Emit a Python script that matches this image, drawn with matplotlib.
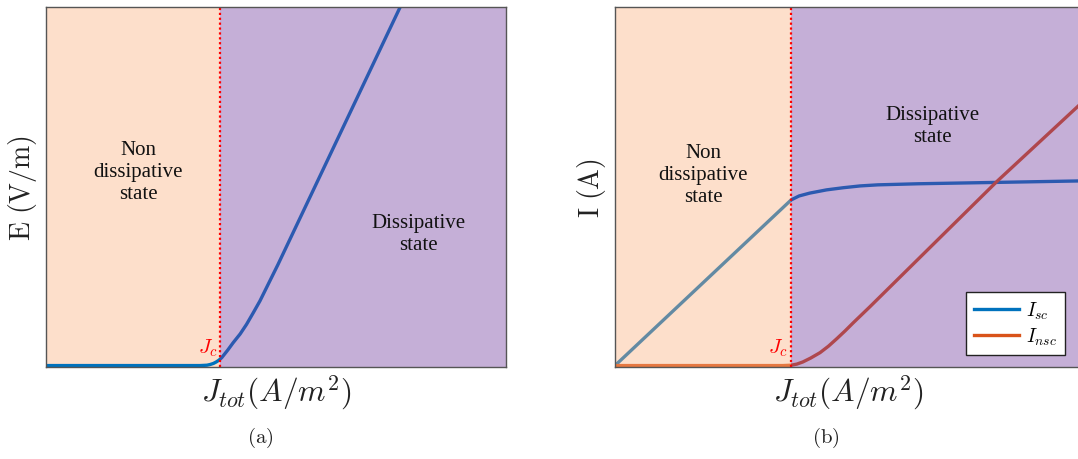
import matplotlib
matplotlib.use("Agg")
import matplotlib.pyplot as plt

plt.rcParams['mathtext.fontset'] = 'cm'

# ---- data (arbitrary units) ----
Jc = 3.78
# panel (a): E vs J
J_a = [0.0, 3.35, 3.5, 3.57, 3.64, 3.70, 3.76, 3.82, 3.95, 4.07, 4.22, 4.36, 4.50, 4.65, 5.04, 7.70]
E_a = [0.0, 0.0, 0.01, 0.03, 0.06, 0.10, 0.15, 0.22, 0.43, 0.64, 0.88, 1.15, 1.46, 1.80, 2.81, 10.0]
# panel (b): I_sc and I_nsc vs J
J_sc = [0.0, 3.78, 3.95, 4.18, 4.54, 4.90, 5.26, 5.64, 6.5, 8.26, 10.0]
I_sc = [0.0, 4.62, 4.73, 4.81, 4.90, 4.96, 5.01, 5.04, 5.07, 5.11, 5.15]
J_nsc = [0.0, 3.3, 3.6, 3.78, 3.9, 4.03, 4.2, 4.40, 4.58, 4.76, 4.94, 5.11, 5.47, 8.20, 10.0]
I_nsc = [0.0, 0.0, 0.0, 0.01, 0.04, 0.10, 0.21, 0.36, 0.54, 0.75, 0.97, 1.19, 1.64, 5.14, 7.31]

region_left = "Non\ndissipative\nstate"
region_right = "Dissipative\nstate"

W, H = 1078, 460
fig = plt.figure(figsize=(W / 100, H / 100), dpi=100)

ax1 = fig.add_axes([46 / W, 1 - 368 / H, 460 / W, 360 / H])
ax2 = fig.add_axes([615 / W, 1 - 368 / H, 466 / W, 360 / H])

blue = '#0072BD'
orange = '#D95319'
peach = '#FAB07E'
purple = '#70379D'
alpha = 0.4

for ax in (ax1, ax2):
    ax.set_xlim(0, 10)
    ax.set_ylim(-0.04, 10)
    ax.set_xticks([])
    ax.set_yticks([])
    for s in ax.spines.values():
        s.set_color('#555555')
        s.set_linewidth(1.0)
        s.set_zorder(6)
    ax.axvline(Jc, color='#FF0000', ls=(0, (1, 1.2)), lw=1.6, zorder=5)
    ax.set_xlabel(r'$J_{tot}(A/m^2)$', fontsize=22.5, labelpad=4, color='#222222')

# panel (a)
ax1.plot(J_a, E_a, color=blue, lw=2.4, zorder=1.5, solid_capstyle='butt')
ax1.axvspan(0, Jc, color=peach, alpha=alpha, lw=0, zorder=1)
ax1.axvspan(Jc, 10, color=purple, alpha=alpha, lw=0, zorder=2)
ax1.set_ylabel(r'$\mathrm{E\ (V/m)}$', fontsize=20, labelpad=5, color='#222222')
ax1.text(2.0, 5.42, region_left, ha='center', va='center', fontsize=15,
         family='Liberation Serif', linespacing=1.2, zorder=7, color='#111111')
ax1.text(8.1, 3.69, region_right, ha='center', va='center', fontsize=15,
         family='Liberation Serif', linespacing=1.2, zorder=7, color='#111111')
ax1.text(3.52, 0.5, r'$J_c$', color='#FF0000', fontsize=15, ha='center',
         va='center', zorder=7)

# panel (b)
l1, = ax2.plot(J_sc, I_sc, color=blue, lw=2.4, zorder=1.5, label=r'$I_{sc}$')
l2, = ax2.plot(J_nsc, I_nsc, color=orange, lw=2.4, zorder=1.6, label=r'$I_{nsc}$')
ax2.axvspan(0, Jc, color=peach, alpha=alpha, lw=0, zorder=2)
ax2.axvspan(Jc, 10, color=purple, alpha=alpha, lw=0, zorder=2)
ax2.set_ylabel(r'$\mathrm{I\ (A)}$', fontsize=20, labelpad=5, color='#222222')
ax2.text(1.89, 5.33, region_left, ha='center', va='center', fontsize=15,
         family='Liberation Serif', linespacing=1.2, zorder=7, color='#111111')
ax2.text(6.82, 6.69, region_right, ha='center', va='center', fontsize=15,
         family='Liberation Serif', linespacing=1.2, zorder=7, color='#111111')
ax2.text(3.5, 0.5, r'$J_c$', color='#FF0000', fontsize=15, ha='center',
         va='center', zorder=7)

leg = ax2.legend(handles=[l1, l2], loc='upper right',
                 bbox_to_anchor=(1065 / W, 1 - 293 / H),
                 bbox_transform=fig.transFigure, borderaxespad=0,
                 fancybox=False, framealpha=1, edgecolor='#222222',
                 fontsize=14, handlelength=2.3, handletextpad=0.4,
                 borderpad=0.4, labelspacing=0.25)
leg.get_frame().set_linewidth(1.0)
leg.set_zorder(10)

fig.text(260 / W, 1 - 438 / H, r'$\mathrm{(a)}$', ha='center', va='center', fontsize=15, color='#222222')
fig.text(826 / W, 1 - 438 / H, r'$\mathrm{(b)}$', ha='center', va='center', fontsize=15, color='#222222')

fig.savefig('out.png', dpi=100)
